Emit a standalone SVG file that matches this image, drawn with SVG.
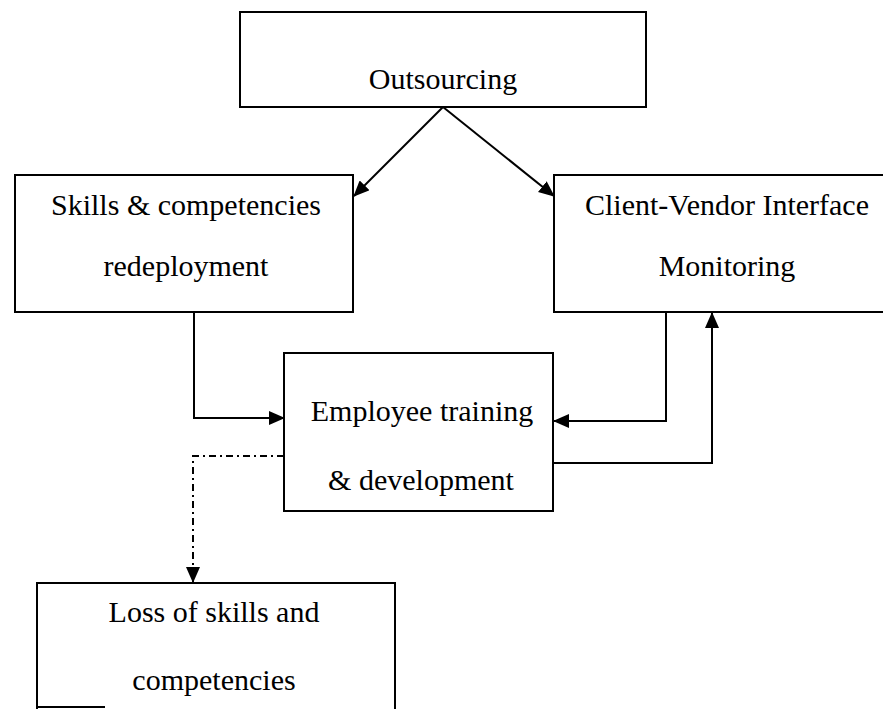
<svg xmlns="http://www.w3.org/2000/svg" width="883" height="709" viewBox="0 0 883 709">
<style>
.box{fill:#fff;stroke:#000;stroke-width:2}
.t{font-family:"Liberation Serif","Times New Roman",serif;font-size:30px;fill:#000;text-anchor:middle}
.c{fill:none;stroke:#000;stroke-width:2}
.dd{stroke-dasharray:7 4 2 4}
</style>
<defs>
<marker id="ah" markerUnits="userSpaceOnUse" markerWidth="16" markerHeight="14" viewBox="0 0 16 14" refX="15" refY="7" orient="auto">
<path d="M0,0 L16,7 L0,14 Z" fill="#000"/>
</marker>
</defs>
<rect width="883" height="709" fill="#fff"/>
<g id="outsourcing">
<rect class="box" x="240" y="12" width="406" height="95"/>
<text class="t" x="443" y="89">Outsourcing</text>
</g>
<g id="skills">
<rect class="box" x="15" y="175" width="338" height="137"/>
<text class="t" x="186" y="215">Skills &amp; competencies</text>
<text class="t" x="186" y="276">redeployment</text>
</g>
<g id="client">
<rect class="box" x="554" y="175" width="340" height="137"/>
<text class="t" x="727" y="215">Client-Vendor Interface</text>
<text class="t" x="727" y="276">Monitoring</text>
</g>
<g id="employee">
<rect class="box" x="284" y="353" width="269" height="158"/>
<text class="t" x="422" y="421">Employee training</text>
<text class="t" x="421" y="490">&amp; development</text>
</g>
<g id="loss">
<path class="c" d="M37,712 L37,583 L395,583 L395,712"/>
<path class="c" d="M37,707 L105,707"/>
<text class="t" x="214" y="622">Loss of skills and</text>
<text class="t" x="214" y="690">competencies</text>
</g>
<g id="connectors">
<path class="c" d="M443,107 L354,196" marker-end="url(#ah)"/>
<path class="c" d="M443,107 L554,196" marker-end="url(#ah)"/>
<path class="c" d="M194,312 L194,418 L284,418" marker-end="url(#ah)"/>
<path class="c" d="M666,312 L666,421 L554,421" marker-end="url(#ah)"/>
<path class="c" d="M553,463 L712,463 L712,313" marker-end="url(#ah)"/>
<path class="c dd" d="M284,456 L193,456 L193,582" marker-end="url(#ah)"/>
</g>
</svg>
